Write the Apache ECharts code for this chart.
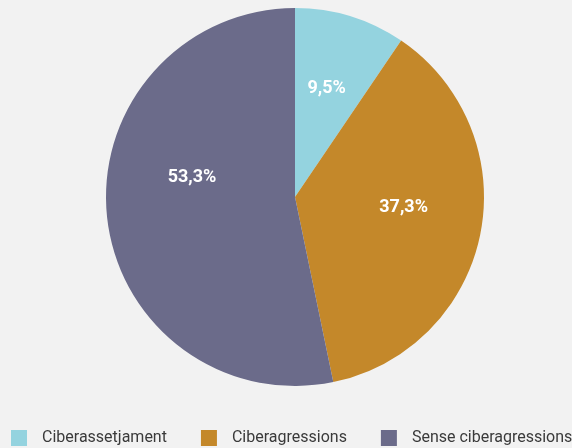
<!DOCTYPE html>
<html><head><meta charset="utf-8">
<style>html,body{margin:0;padding:0;background:#f2f2f2;}#c{width:572px;height:448px;}</style>
<script src="https://cdn.jsdelivr.net/npm/echarts@6/dist/echarts.min.js"></script>
</head><body><div id="c"></div>
<script>
const categories = ['Ciberassetjament', 'Ciberagressions', 'Sense ciberagressions'];
const values = [9.5, 37.3, 53.3];
const colors = ['#94d3df', '#c4882a', '#6b6b8a'];
// label nudges to mimic reference placement (horizontal padding, line height for vertical)
const labelPads = [[0, 0, 0, 6], [0, 0, 0, 26], [0, 12, 0, 0]];
const labelLineHeights = [30, 18, 58];
const chart = echarts.init(document.getElementById('c'));
chart.setOption({
  backgroundColor: '#f2f2f2',
  animation: false,
  color: colors,
  legend: {
    top: 430, left: 11, padding: 0, width: 900, itemWidth: 16, itemHeight: 16, itemGap: 34, icon: 'rect',
    textStyle: {fontFamily: 'Roboto', fontSize: 16, color: '#3a3a3a', padding: [2, 0, 0, 10]},
    data: categories
  },
  series: [{
    type: 'pie',
    center: [295, 197], radius: 189,
    startAngle: 90, clockwise: true,
    label: {
      position: 'inside', color: '#fff', fontFamily: 'Roboto', fontWeight: 'bold', fontSize: 18,
      formatter: p => p.value.toFixed(1).replace('.', ',') + '%\n '
    },
    labelLine: {show: false},
    itemStyle: {borderWidth: 0},
    emphasis: {disabled: true},
    data: categories.map((c, i) => ({name: c, value: values[i], label: {padding: labelPads[i], lineHeight: labelLineHeights[i]}}))
  }]
});
</script></body></html>
